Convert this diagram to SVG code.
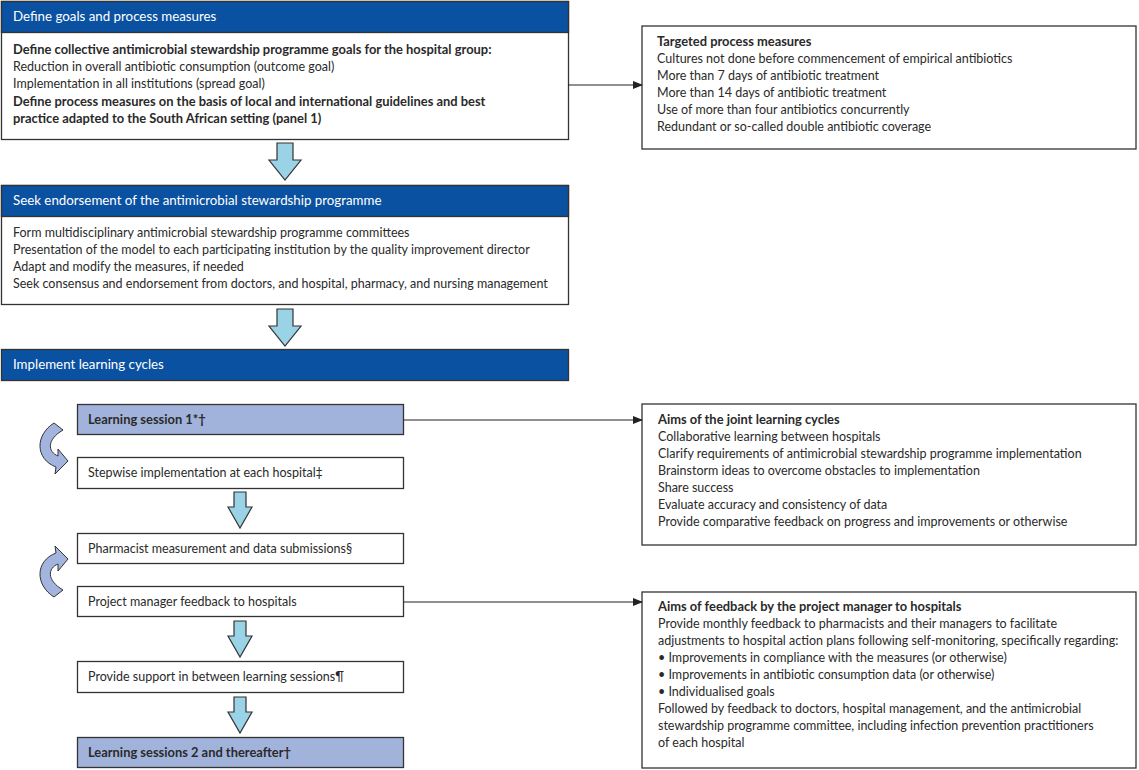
<svg xmlns="http://www.w3.org/2000/svg" width="1139" height="770" viewBox="0 0 1139 770">
<style>
text{font-family:Lato,"Open Sans","Liberation Sans",sans-serif;font-size:12.5px;fill:#2a2a2a}
.h{fill:#fff;font-size:13.3px}
.b{font-weight:bold;font-size:12.9px}
.box{fill:#fff;stroke:#333;stroke-width:1.3}
.hdr{fill:#0B51A1;stroke:#333;stroke-width:1.3}
.ls{fill:#A2B3DB;stroke:#333;stroke-width:1.3}
.down{fill:#9AD3E6;stroke:#333;stroke-width:1.2;stroke-linejoin:miter}
.curl{fill:#A3B5DF;stroke:#333;stroke-width:1}
.conn{stroke:#222;stroke-width:1.2;fill:none}
</style>
<defs>
<marker id="ah" markerWidth="10" markerHeight="10" refX="9" refY="5" orient="auto" markerUnits="userSpaceOnUse">
<path d="M0,1 L10,5 L0,9 Z" fill="#222"/>
</marker>
<path id="bigdown" class="down" d="M-8,0 H8 V17 H16 L0,37 L-16,17 H-8 Z"/>
<path id="smalldown" class="down" d="M-6,0 H6 V15 H12 L0,36 L-12,15 H-6 Z"/>
<path id="curlshape" class="curl" d="M54,423 C35,435 35,459 56,467 L55,474 L68,461 L58,449 L58,456 C48,452 46,440 63,430 Z"/>
</defs>

<g id="goals">
<rect class="box" x="1.5" y="1.5" width="567" height="138"/>
<rect class="hdr" x="1.5" y="1.5" width="567" height="31"/>
<text class="h" x="13" y="21">Define goals and process measures</text>
<text class="b" x="13" y="54">Define collective antimicrobial stewardship programme goals for the hospital group:</text>
<text x="13" y="71">Reduction in overall antibiotic consumption (outcome goal)</text>
<text x="13" y="88">Implementation in all institutions (spread goal)</text>
<text class="b" x="13" y="106">Define process measures on the basis of local and international guidelines and best</text>
<text class="b" x="13" y="123">practice adapted to the South African setting (panel 1)</text>
</g>

<g id="targeted">
<rect class="box" x="642" y="26" width="494" height="123"/>
<text class="b" x="657" y="46">Targeted process measures</text>
<text x="657" y="63">Cultures not done before commencement of empirical antibiotics</text>
<text x="657" y="80">More than 7 days of antibiotic treatment</text>
<text x="657" y="97">More than 14 days of antibiotic treatment</text>
<text x="657" y="114">Use of more than four antibiotics concurrently</text>
<text x="657" y="131">Redundant or so-called double antibiotic coverage</text>
</g>

<g id="endorsement">
<rect class="box" x="1.5" y="185.5" width="567" height="119"/>
<rect class="hdr" x="1.5" y="185.5" width="567" height="31"/>
<text class="h" x="13" y="205">Seek endorsement of the antimicrobial stewardship programme</text>
<text x="13" y="237">Form multidisciplinary antimicrobial stewardship programme committees</text>
<text x="13" y="254">Presentation of the model to each participating institution by the quality improvement director</text>
<text x="13" y="271">Adapt and modify the measures, if needed</text>
<text x="13" y="288">Seek consensus and endorsement from doctors, and hospital, pharmacy, and nursing management</text>
</g>

<g id="implement">
<rect class="hdr" x="1.5" y="349.5" width="567" height="31"/>
<text class="h" x="13" y="369">Implement learning cycles</text>
</g>

<g id="ls1">
<rect class="ls" x="77.5" y="404.5" width="326" height="30"/>
<text class="b" x="88" y="424">Learning session 1*†</text>
</g>
<g id="stepwise">
<rect class="box" x="77.5" y="457.5" width="326" height="31"/>
<text x="88" y="477">Stepwise implementation at each hospital‡</text>
</g>
<g id="pharmacist">
<rect class="box" x="77.5" y="533.5" width="326" height="30"/>
<text x="88" y="553">Pharmacist measurement and data submissions§</text>
</g>
<g id="pm">
<rect class="box" x="77.5" y="586.5" width="326" height="30"/>
<text x="88" y="606">Project manager feedback to hospitals</text>
</g>
<g id="support">
<rect class="box" x="77.5" y="661.5" width="326" height="31"/>
<text x="88" y="681">Provide support in between learning sessions¶</text>
</g>
<g id="ls2">
<rect class="ls" x="77.5" y="737.5" width="326" height="30"/>
<text class="b" x="88" y="757">Learning sessions 2 and thereafter†</text>
</g>

<g id="aims-learning">
<rect class="box" x="642" y="404" width="494" height="141"/>
<text class="b" x="658" y="424">Aims of the joint learning cycles</text>
<text x="658" y="441">Collaborative learning between hospitals</text>
<text x="658" y="458">Clarify requirements of antimicrobial stewardship programme implementation</text>
<text x="658" y="475">Brainstorm ideas to overcome obstacles to implementation</text>
<text x="658" y="492">Share success</text>
<text x="658" y="509">Evaluate accuracy and consistency of data</text>
<text x="658" y="526">Provide comparative feedback on progress and improvements or otherwise</text>
</g>

<g id="aims-feedback">
<rect class="box" x="642" y="592" width="494" height="176"/>
<text class="b" x="658" y="611">Aims of feedback by the project manager to hospitals</text>
<text x="658" y="628">Provide monthly feedback to pharmacists and their managers to facilitate</text>
<text x="658" y="645">adjustments to hospital action plans following self-monitoring, specifically regarding:</text>
<text x="658" y="662">• Improvements in compliance with the measures (or otherwise)</text>
<text x="658" y="679">• Improvements in antibiotic consumption data (or otherwise)</text>
<text x="658" y="696">• Individualised goals</text>
<text x="658" y="713">Followed by feedback to doctors, hospital management, and the antimicrobial</text>
<text x="658" y="730">stewardship programme committee, including infection prevention practitioners</text>
<text x="658" y="747">of each hospital</text>
</g>

<g id="connectors">
<use href="#bigdown" x="285" y="143"/>
<use href="#bigdown" x="285" y="309"/>
<use href="#smalldown" x="240" y="492"/>
<use href="#smalldown" x="240" y="621"/>
<use href="#smalldown" x="240" y="697"/>
<line class="conn" x1="568" y1="85" x2="642" y2="85" marker-end="url(#ah)"/>
<line class="conn" x1="404" y1="420" x2="642" y2="420" marker-end="url(#ah)"/>
<line class="conn" x1="404" y1="602" x2="642" y2="602" marker-end="url(#ah)"/>
<use href="#curlshape"/>
<use href="#curlshape" transform="matrix(1 0 0 -1 0 1020)"/>
</g>
</svg>
